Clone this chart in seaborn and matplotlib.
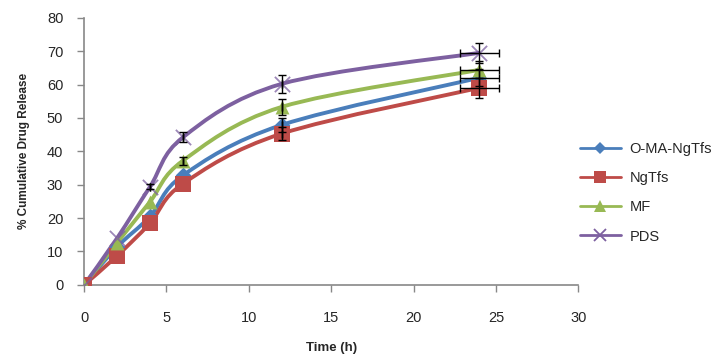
import numpy as np
import matplotlib
matplotlib.use("Agg")
import matplotlib.pyplot as plt
import seaborn as sns
from matplotlib.path import Path
from matplotlib.patches import PathPatch
from matplotlib.lines import Line2D

# data
time_h = [0, 2, 4, 6, 12, 24]
series_names = ["O-MA-NgTfs", "NgTfs", "MF", "PDS"]
release_oma = [0, 11.4, 20.5, 32.8, 47.9, 62.0]
release_ngtfs = [0, 8.7, 18.5, 30.3, 45.3, 59.0]
release_mf = [0, 12.6, 24.9, 37.2, 53.3, 64.4]
release_pds = [0, 14.0, 29.4, 44.2, 60.2, 69.5]
# error bars (0 = not visible in the reference)
err_oma = [0, 0, 0, 0, 2.0, 2.5]
err_ngtfs = [0, 0, 0, 0, 2.0, 3.0]
err_mf = [0, 0, 0, 1.2, 2.5, 2.5]
err_pds = [0, 0, 0.8, 1.5, 2.8, 3.0]
time_err = [0, 0, 0, 0, 0, 1.2]

values = [release_oma, release_ngtfs, release_mf, release_pds]
errors = [err_oma, err_ngtfs, err_mf, err_pds]
colors = ["#4a7ebb", "#be4b48", "#98b954", "#7d60a0"]
markers = ["D", "s", "^", "x"]
msizes = [8, 11, 10, 11]


def smooth_path(x, y):
    """Excel-style smoothed line as cubic Bezier segments (Catmull-Rom)."""
    pts = np.column_stack([x, y]).astype(float)
    ext = np.vstack([pts[0], pts, pts[-1]])
    verts = [pts[0]]
    codes = [Path.MOVETO]
    for i in range(1, len(ext) - 2):
        p0, p1, p2, p3 = ext[i - 1], ext[i], ext[i + 1], ext[i + 2]
        verts += [p1 + (p2 - p0) / 6, p2 - (p3 - p1) / 6, p2]
        codes += [Path.CURVE4] * 3
    return Path(verts, codes)


sns.set_style("white")
plt.rcParams["font.family"] = ["Liberation Sans", "DejaVu Sans"]

fig = plt.figure(figsize=(7.13, 3.62), dpi=100)
ax = fig.add_axes([0.118, 0.213, 0.693, 0.738])

handles = []
for name, y, e, c, m, ms in zip(series_names, values, errors, colors, markers, msizes):
    ax.add_patch(PathPatch(smooth_path(time_h, y), fill=False, edgecolor=c,
                           lw=2.8, zorder=2))
    sns.scatterplot(x=time_h, y=y, ax=ax, marker=m, s=ms ** 2, color=c,
                    edgecolor=c, linewidth=1.3 if m == "x" else 0, zorder=3,
                    legend=False, alpha=0.75 if m == "x" else 1)
    keep = [i for i in range(len(time_h)) if e[i] > 0]
    ax.errorbar([time_h[i] for i in keep], [y[i] for i in keep],
                yerr=[e[i] for i in keep], xerr=[time_err[i] for i in keep],
                fmt="none", ecolor="black", elinewidth=1, capsize=3,
                capthick=1, zorder=4)
    handles.append(Line2D([0], [0], color=c, lw=2, marker=m,
                          markersize=ms * 0.8, markeredgewidth=1.3 if m == "x" else 0,
                          markeredgecolor=c, label=name))

ax.set_xlim(0, 30)
ax.set_ylim(0, 80)
ax.set_xticks(range(0, 31, 5))
ax.set_yticks(range(0, 81, 10))
ax.tick_params(axis="both", direction="out", length=5, width=1, color="#888888",
               labelsize=10.5, pad=10, bottom=True, left=True)
ax.tick_params(axis="x", pad=14)
for side in ["top", "right"]:
    ax.spines[side].set_visible(False)
for side in ["left", "bottom"]:
    ax.spines[side].set_color("#888888")
    ax.spines[side].set_linewidth(1.2)

ax.set_xlabel("Time (h)", fontsize=9.5, fontweight="bold", labelpad=12)
ax.set_ylabel("% Cumulative Drug Release", fontsize=8.5, fontweight="bold", labelpad=12)

fig.legend(handles=handles, loc="upper left", bbox_to_anchor=(0.795, 0.645),
           frameon=False, fontsize=10.5, handlelength=2.8, labelspacing=1.05,
           handletextpad=0.6)

fig.savefig("out.png", dpi=100)
